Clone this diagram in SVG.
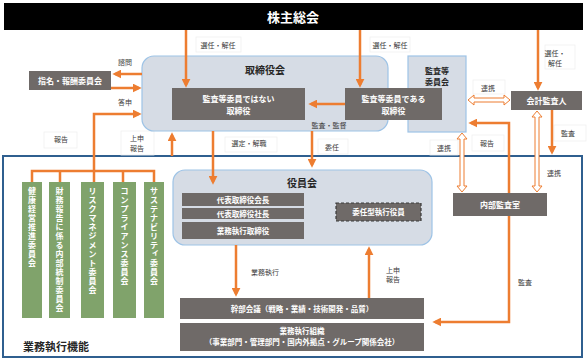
<svg xmlns="http://www.w3.org/2000/svg" width="587" height="361" viewBox="0 0 587 361">
<style>
.bx{fill:#6f6a68}
.wt{fill:#fff;font-family:"Noto Sans CJK JP","Noto Sans",sans-serif;font-weight:bold;text-anchor:middle}
.dk{fill:#262626;font-family:"Noto Sans CJK JP","Noto Sans",sans-serif;font-weight:bold;text-anchor:middle}
.lb{fill:#404040;font-family:"Noto Sans CJK JP","Noto Sans",sans-serif;font-size:7px;text-anchor:middle}
.lbg{fill:#fff;stroke:#efefef;stroke-width:0.8}
.or{stroke:#ed7d31;stroke-width:2.5;fill:none}
.orm{stroke:#ed7d31;stroke-width:2.5;fill:none;marker-end:url(#ah)}
.ho{fill:#fff;stroke:#ed7d31;stroke-width:1}
.cm{fill:#80a36b}
.vt{fill:#fff;font-family:"Noto Sans CJK JP","Noto Sans",sans-serif;font-weight:bold;font-size:8px;text-anchor:middle}
.grp{fill:#d6dce5;stroke:#9dc3e6;stroke-width:1.2}
</style>
<defs>
<marker id="ah" viewBox="0 0 10 10" refX="7" refY="5" markerWidth="9" markerHeight="9" markerUnits="userSpaceOnUse" orient="auto-start-reverse">
<path d="M0,0 L10,5 L0,10 z" fill="#ed7d31"/>
</marker>
</defs>
<rect width="587" height="361" fill="#fff"/>

<!-- frame -->
<g id="frame">
<rect x="3" y="156" width="579" height="201" fill="none" stroke="#2f5f8f" stroke-width="2"/>
<text x="23" y="351" class="dk" style="text-anchor:start;font-size:11px">業務執行機能</text>
</g>

<!-- labels -->
<g id="labels">
<rect class="lbg" x="196" y="37" width="45" height="15"/><text class="lb" x="218" y="47.5">選任・解任</text>
<rect class="lbg" x="370" y="37" width="40" height="15"/><text class="lb" x="390" y="47.5">選任・解任</text>
<rect class="lbg" x="545" y="45" width="30" height="24"/><text class="lb" x="555" y="55.5">選任・</text><text class="lb" x="555" y="65.5">解任</text>
<text class="lb" x="125" y="64.5">諮問</text>
<text class="lb" x="125" y="104.5">答申</text>
<rect class="lbg" x="44" y="132" width="33" height="16"/><text class="lb" x="61" y="141.5">報告</text>
<rect class="lbg" x="121" y="131" width="33" height="24"/><text class="lb" x="137" y="140.5">上申</text><text class="lb" x="137" y="150.5">報告</text>
<rect class="lbg" x="225" y="137" width="52" height="15"/><text class="lb" x="249" y="146">選定・解職</text>
<rect class="lbg" x="318" y="139" width="30" height="15"/><text class="lb" x="332" y="149.5">委任</text>
<rect class="lbg" x="473" y="80" width="32" height="14"/><text class="lb" x="488" y="90.5">連携</text>
<rect class="lbg" x="430" y="140" width="28" height="15"/><text class="lb" x="444" y="150.5">連携</text>
<rect class="lbg" x="472" y="135" width="32" height="16"/><text class="lb" x="487" y="145.5">報告</text>
<rect class="lbg" x="554" y="125" width="32" height="16"/><text class="lb" x="568" y="135.5">監査</text>
<text class="lb" x="554" y="175.5">連携</text>
<text class="lb" x="265" y="274.5">業務執行</text>
<text class="lb" x="393" y="272.5">上申</text><text class="lb" x="393" y="281.5">報告</text>
<text class="lb" x="525" y="284.5">監査</text>
</g>

<!-- container nodes -->
<g id="shareholders">
<rect x="4" y="3" width="579" height="27" fill="#000"/>
<text x="293" y="21.5" class="wt" style="font-size:13px">株主総会</text>
</g>

<g id="board">
<rect class="grp" x="142" y="56" width="246" height="75" rx="12"/>
<text x="265" y="73.5" class="dk" style="font-size:10px">取締役会</text>
<text class="lb" x="329" y="128">監査・監督</text>
</g>

<g id="audit-committee">
<rect class="grp" x="408" y="56" width="58" height="76"/>
<text x="437" y="73.5" class="dk" style="font-size:8px">監査等</text>
<text x="437" y="84.5" class="dk" style="font-size:8px">委員会</text>
</g>

<g id="officers">
<rect class="grp" x="173" y="170" width="259" height="75" rx="12"/>
<text x="302" y="186.5" class="dk" style="font-size:10px">役員会</text>
<rect class="bx" x="182" y="193" width="122" height="13"/>
<text x="243" y="202.5" class="wt" style="font-size:7.5px">代表取締役会長</text>
<rect class="bx" x="182" y="208" width="122" height="11"/>
<text x="243" y="216.5" class="wt" style="font-size:7.5px">代表取締役社長</text>
<rect class="bx" x="182" y="222" width="122" height="17"/>
<text x="243" y="233.5" class="wt" style="font-size:7.5px">業務執行取締役</text>
<rect class="bx" x="336" y="203" width="85" height="18" stroke="#3a3a3a" stroke-width="1.2" stroke-dasharray="3 2"/>
<text x="378.5" y="215" class="wt" style="font-size:7.5px">委任型執行役員</text>
</g>

<!-- connectors -->
<g id="connectors">
<path class="orm" d="M186 30 V85"/>
<path class="orm" d="M360 30 V85"/>
<path class="orm" d="M538 30 V88"/>
<path class="orm" d="M345 104 H311"/>
<path class="orm" d="M142 74 H115"/>
<path class="orm" d="M111 88 H139"/>
<path class="or" d="M32 182 V171 H154 V182 M60 171 V182 M123 171 V182"/>
<path class="orm" d="M94 182 V114 H139"/>
<path class="orm" d="M172 156 V135"/>
<path class="orm" d="M213 131 V182"/>
<path class="orm" d="M312 131 V165"/>
<path class="orm" d="M236 245 V294"/>
<path class="orm" d="M369 298 V249"/>
<path class="or" d="M471 123 H509 V322 H435" style="marker-start:url(#ah);marker-end:url(#ah)"/>
<path class="orm" d="M552 110 V152"/>
<path class="ho" d="M468 100 L474 95 L474 98 L504 98 L504 95 L510 100 L504 105 L504 102 L474 102 L474 105 Z"/>
<path class="ho" d="M462 133 L467 139 L464 139 L464 186 L467 186 L462 192 L457 186 L460 186 L460 139 L457 139 Z"/>
<path class="ho" d="M537 111 L542 117 L539 117 L539 186 L542 186 L537 192 L532 186 L535 186 L535 117 L532 117 Z"/>
</g>

<!-- box nodes -->
<g id="non-audit-directors">
<rect class="bx" x="172" y="88" width="133" height="32"/>
<text x="238.5" y="101.5" class="wt" style="font-size:8px">監査等委員ではない</text>
<text x="238.5" y="113.5" class="wt" style="font-size:8px">取締役</text>
</g>

<g id="audit-directors">
<rect class="bx" x="345" y="88" width="97" height="32"/>
<text x="393.5" y="101.5" class="wt" style="font-size:8px">監査等委員である</text>
<text x="393.5" y="113.5" class="wt" style="font-size:8px">取締役</text>
</g>

<g id="nomination-committee">
<rect class="bx" x="29" y="71" width="82" height="19"/>
<text x="70" y="83.5" class="wt" style="font-size:8px">指名・報酬委員会</text>
</g>

<g id="accounting-auditor">
<rect class="bx" x="511" y="91" width="71" height="19"/>
<text x="546.5" y="103.5" class="wt" style="font-size:8px">会計監査人</text>
</g>

<g id="internal-audit">
<rect class="bx" x="453" y="193" width="94" height="23"/>
<text x="500" y="207.5" class="wt" style="font-size:8px">内部監査室</text>
</g>

<g id="executive-meeting">
<rect class="bx" x="180" y="298" width="244" height="21"/>
<text x="302" y="311.5" class="wt" style="font-size:7.5px">幹部会議（戦略・業績・技術開発・品質）</text>
</g>

<g id="execution-org">
<rect class="bx" x="180" y="323" width="244" height="28"/>
<text x="302" y="334" class="wt" style="font-size:7.5px">業務執行組織</text>
<text x="302" y="345" class="wt" style="font-size:7.5px">（事業部門・管理部門・国内外拠点・グループ関係会社）</text>
</g>

<g id="committees">
<rect class="cm" x="22" y="182" width="20" height="136"/>
<text class="vt" y="194"><tspan x="32">健</tspan><tspan x="32" dy="9">康</tspan><tspan x="32" dy="9">経</tspan><tspan x="32" dy="9">営</tspan><tspan x="32" dy="9">推</tspan><tspan x="32" dy="9">進</tspan><tspan x="32" dy="9">委</tspan><tspan x="32" dy="9">員</tspan><tspan x="32" dy="9">会</tspan></text>
<rect class="cm" x="49" y="182" width="21" height="136"/>
<text class="vt" y="194"><tspan x="59.5">財</tspan><tspan x="59.5" dy="9">務</tspan><tspan x="59.5" dy="9">報</tspan><tspan x="59.5" dy="9">告</tspan><tspan x="59.5" dy="9">に</tspan><tspan x="59.5" dy="9">係</tspan><tspan x="59.5" dy="9">る</tspan><tspan x="59.5" dy="9">内</tspan><tspan x="59.5" dy="9">部</tspan><tspan x="59.5" dy="9">統</tspan><tspan x="59.5" dy="9">制</tspan><tspan x="59.5" dy="9">委</tspan><tspan x="59.5" dy="9">員</tspan><tspan x="59.5" dy="9">会</tspan></text>
<rect class="cm" x="81" y="182" width="23" height="136"/>
<text class="vt" y="194"><tspan x="92.5">リ</tspan><tspan x="92.5" dy="9">ス</tspan><tspan x="92.5" dy="9">ク</tspan><tspan x="92.5" dy="9">マ</tspan><tspan x="92.5" dy="9">ネ</tspan><tspan x="92.5" dy="9">ジ</tspan><tspan x="92.5" dy="9">メ</tspan><tspan x="92.5" dy="9">ン</tspan><tspan x="92.5" dy="9">ト</tspan><tspan x="92.5" dy="9">委</tspan><tspan x="92.5" dy="9">員</tspan><tspan x="92.5" dy="9">会</tspan></text>
<rect class="cm" x="113" y="182" width="23" height="136"/>
<text class="vt" y="194"><tspan x="124.5">コ</tspan><tspan x="124.5" dy="9">ン</tspan><tspan x="124.5" dy="9">プ</tspan><tspan x="124.5" dy="9">ラ</tspan><tspan x="124.5" dy="9">イ</tspan><tspan x="124.5" dy="9">ア</tspan><tspan x="124.5" dy="9">ン</tspan><tspan x="124.5" dy="9">ス</tspan><tspan x="124.5" dy="9">委</tspan><tspan x="124.5" dy="9">員</tspan><tspan x="124.5" dy="9">会</tspan></text>
<rect class="cm" x="144" y="182" width="20" height="136"/>
<text class="vt" y="194"><tspan x="154">サ</tspan><tspan x="154" dy="9">ス</tspan><tspan x="154" dy="9">テ</tspan><tspan x="154" dy="9">ナ</tspan><tspan x="154" dy="9">ビ</tspan><tspan x="154" dy="9">リ</tspan><tspan x="154" dy="9">テ</tspan><tspan x="155.5" dy="7">ィ</tspan><tspan x="154" dy="11">委</tspan><tspan x="154" dy="9">員</tspan><tspan x="154" dy="9">会</tspan></text>
</g>
</svg>
